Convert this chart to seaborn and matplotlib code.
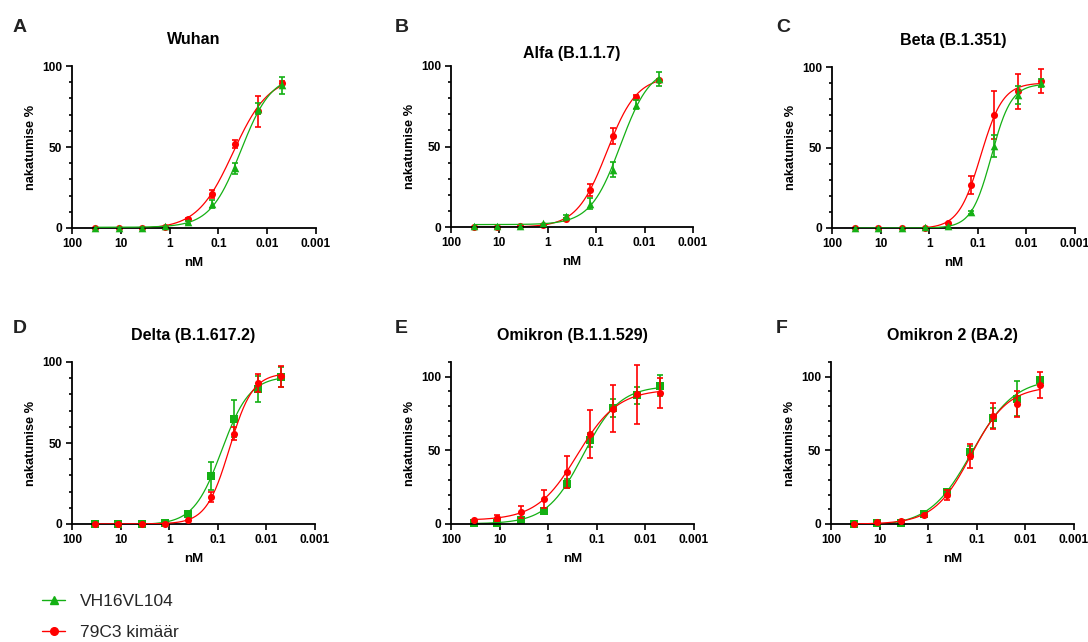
# =========================================
# Neutralisation curves, six SARS-CoV-2 variants
# =========================================

import numpy as np
import matplotlib.pyplot as plt
import seaborn as sns
from matplotlib.ticker import FixedLocator, MultipleLocator, NullLocator
from matplotlib.lines import Line2D

# =========================================
# Data (means and SD)
# =========================================
conc = np.array([33.3, 11.1, 3.70, 1.23, 0.412, 0.137, 0.0457, 0.0152, 0.00508])
tick_vals = [100, 10, 1, 0.1, 0.01, 0.001]
tick_labels = ["100", "10", "1", "0.1", "0.01", "0.001"]

letters = ["A", "B", "C", "D", "E", "F"]
titles = ["Wuhan", "Alfa (B.1.1.7)", "Beta (B.1.351)",
          "Delta (B.1.617.2)", "Omikron (B.1.1.529)", "Omikron 2 (BA.2)"]
series_names = ["VH16VL104", "79C3 kimäär"]

wuhan_vh = [0.3, 0.2, 0.3, 1.0, 3.5, 14.6, 36.9, 73.6, 88.0]
wuhan_vh_err = [0, 0, 0, 0, 0.8, 2.4, 3.4, 3.4, 5.0]
wuhan_79 = [0.3, 0.1, 0.2, 0.5, 5.6, 20.8, 51.8, 72.0, 89.3]
wuhan_79_err = [0, 0, 0, 0, 0.8, 2.5, 2.7, 9.6, 1.5]

alfa_vh = [0.4, 0.4, 0.8, 2.3, 6.6, 14.5, 35.7, 76.0, 92.0]
alfa_vh_err = [0, 0, 0, 0.5, 1.0, 3.6, 4.8, 2.8, 4.4]
alfa_79 = [0.2, 0.2, 0.4, 1.0, 4.8, 23.0, 56.4, 80.9, 91.0]
alfa_79_err = [0, 0, 0, 0, 0.8, 4.0, 4.9, 1.1, 1.0]

beta_vh = [0.0, 0.0, 0.1, 0.6, 1.0, 9.7, 51.0, 82.5, 90.0]
beta_vh_err = [0, 0, 0, 0, 0, 0.8, 6.7, 5.6, 2.7]
beta_79 = [0.0, 0.0, 0.0, 0.2, 3.0, 26.8, 70.1, 85.0, 91.3]
beta_79_err = [0, 0, 0, 0, 0.5, 5.5, 15.0, 10.8, 7.4]

delta_vh = [0.0, 0.0, 0.1, 0.5, 6.4, 29.5, 65.0, 83.5, 90.7]
delta_vh_err = [0, 0, 0, 0, 1.0, 8.7, 11.5, 8.0, 6.0]
delta_79 = [0.0, 0.0, 0.0, 0.3, 2.5, 16.5, 55.8, 86.8, 91.3]
delta_79_err = [0, 0, 0, 0, 0.5, 3.0, 4.0, 5.6, 6.5]

omi_vh = [0.7, 1.0, 3.0, 8.9, 27.5, 57.0, 78.6, 87.3, 94.0]
omi_vh_err = [0, 0, 1.0, 1.0, 2.8, 4.5, 6.0, 6.0, 7.0]
omi_79 = [2.5, 4.0, 8.4, 17.0, 35.2, 61.0, 78.4, 88.0, 88.9]
omi_79_err = [0.5, 2.0, 4.0, 6.0, 11.0, 16.3, 16.2, 20.0, 10.0]

omi2_vh = [0.2, 0.5, 0.8, 6.5, 21.4, 48.6, 72.0, 85.0, 97.5]
omi2_vh_err = [0, 0, 0, 0.5, 1.5, 4.2, 6.8, 12.0, 1.6]
omi2_79 = [0.3, 1.1, 2.0, 5.9, 19.5, 46.0, 73.4, 81.6, 94.5]
omi2_79_err = [0, 0, 0, 0.5, 3.5, 8.3, 9.0, 9.0, 8.9]

vh_data = [wuhan_vh, alfa_vh, beta_vh, delta_vh, omi_vh, omi2_vh]
vh_errs = [wuhan_vh_err, alfa_vh_err, beta_vh_err, delta_vh_err, omi_vh_err, omi2_vh_err]
c79_data = [wuhan_79, alfa_79, beta_79, delta_79, omi_79, omi2_79]
c79_errs = [wuhan_79_err, alfa_79_err, beta_79_err, delta_79_err, omi_79_err, omi2_79_err]

# =========================================
# Style
# =========================================
sns.set_theme(style="ticks")
plt.rcParams['font.family'] = ['Liberation Sans', 'DejaVu Sans']
plt.rcParams['font.weight'] = 'bold'
plt.rcParams['axes.labelweight'] = 'bold'
plt.rcParams['axes.titleweight'] = 'bold'

GREEN = "#14B014"
RED = "#FF0000"
W, H = 1088, 642

# axes boxes in pixels: left, right, top, bottom
boxes = [(72, 316, 66, 228), (451, 693, 66, 227), (832, 1075, 67, 228),
         (72, 315, 362, 524), (451, 694, 362, 524), (831, 1074, 362, 524)]
ytops = [100, 100, 100, 100, 110, 110]
title_pads = [16, 6, 16, 16, 15.5, 15.5]
letter_pos = [(13, 32), (395, 32), (776, 32), (13, 333), (395, 333), (776, 333)]
vh_markers = ["^", "^", "^", "s", "s", "s"]


# =========================================
# 4PL fit (grid over IC50 / hill, least squares for bottom / top)
# =========================================
def fit_4pl(x, y):
    lx = np.log10(x)
    y = np.asarray(y, dtype=float)
    logc = np.linspace(-3, 2, 251)[:, None, None]
    hill = np.linspace(0.3, 4, 186)[None, :, None]
    f = 1 / (1 + 10 ** (hill * (lx[None, None, :] - logc)))
    g = 1 - f
    s11 = (g * g).sum(-1)
    s12 = (g * f).sum(-1)
    s22 = (f * f).sum(-1)
    r1 = (g * y).sum(-1)
    r2 = (f * y).sum(-1)
    with np.errstate(all="ignore"):
        det = s11 * s22 - s12 ** 2
        bot = (s22 * r1 - s12 * r2) / det
        top = (s11 * r2 - s12 * r1) / det
        sse = ((y - bot[..., None] * g - top[..., None] * f) ** 2).sum(-1)
    sse[~np.isfinite(sse)] = np.inf
    i, j = np.unravel_index(np.argmin(sse), sse.shape)
    return bot[i, j], top[i, j], logc[i, 0, 0], hill[0, j, 0]


def curve(params, xs):
    b, t, c, h = params
    return b + (t - b) / (1 + 10 ** (h * (np.log10(xs) - c)))


# =========================================
# Figure
# =========================================
fig = plt.figure(figsize=(W / 100, H / 100), dpi=100)
xs = np.logspace(np.log10(conc.max()), np.log10(conc.min()), 300)

for k in range(6):
    l, r, t, b = boxes[k]
    ax = fig.add_axes([l / W, 1 - b / H, (r - l) / W, (b - t) / H])
    ax.set_xscale('log')

    # green on top in first row, red on top in second row
    z_vh, z_79 = (3, 2) if k < 3 else (2, 3)
    series = [(vh_data[k], vh_errs[k], GREEN, vh_markers[k],
               30 if k < 3 else 26, z_vh),
              (c79_data[k], c79_errs[k], RED, "o", 26, z_79)]

    for y, err, col, mk, size, z in series:
        y = np.asarray(y)
        err = np.asarray(err)
        params = fit_4pl(conc, y)
        sns.lineplot(x=xs, y=curve(params, xs), ax=ax, color=col, lw=0.9,
                     estimator=None, sort=False, zorder=z)
        m = err > 0.6
        ax.errorbar(conc[m], y[m], yerr=err[m], fmt='none', ecolor=col,
                    elinewidth=1.2, capsize=2.4, capthick=1.2, zorder=z + 0.1,
                    clip_on=False)
        sns.scatterplot(x=conc, y=y, ax=ax, marker=mk, color=col, s=size,
                        linewidth=0, zorder=z + 0.2, clip_on=False)

    ax.set_xlim(100, 0.001)
    ax.xaxis.set_major_locator(FixedLocator(tick_vals))
    ax.set_xticklabels(tick_labels)
    ax.xaxis.set_minor_locator(NullLocator())
    ax.set_ylim(0, ytops[k])
    ax.set_yticks([0, 50, 100])
    ax.yaxis.set_minor_locator(MultipleLocator(10))

    sns.despine(ax=ax)
    for side in ["left", "bottom"]:
        ax.spines[side].set_linewidth(1.3)
        ax.spines[side].set_color("black")
    ax.tick_params(which='major', length=4, width=1.2, color='black',
                   labelcolor='black', labelsize=8.6, pad=3)
    ax.tick_params(axis='x', which='major', pad=3.5)
    ax.tick_params(which='minor', length=2.5, width=1.2, color='black')

    ax.set_xlabel("nM", fontsize=9.5, labelpad=5, color='black')
    ax.set_ylabel("nakatumise %", fontsize=9.2, labelpad=4, color='black')
    ax.set_title(titles[k], fontsize=11.5, pad=title_pads[k], color='black')

    lx, ly = letter_pos[k]
    fig.text(lx / W, 1 - ly / H, letters[k], fontsize=14, fontweight='bold',
             color='#222222', va='baseline', ha='left')

# legend
handles = [Line2D([], [], color=GREEN, marker="^", markersize=5.5, lw=1),
           Line2D([], [], color=RED, marker="o", markersize=5.5, lw=1)]
fig.legend(handles, series_names, loc='center left',
           bbox_to_anchor=(42 / W, 1 - 617 / H), frameon=False,
           prop={'size': 12.5, 'weight': 'normal'}, handlelength=1.35,
           handletextpad=0.85, labelspacing=0.9, borderpad=0,
           borderaxespad=0)

fig.savefig("out.png", dpi=100)
plt.close()
